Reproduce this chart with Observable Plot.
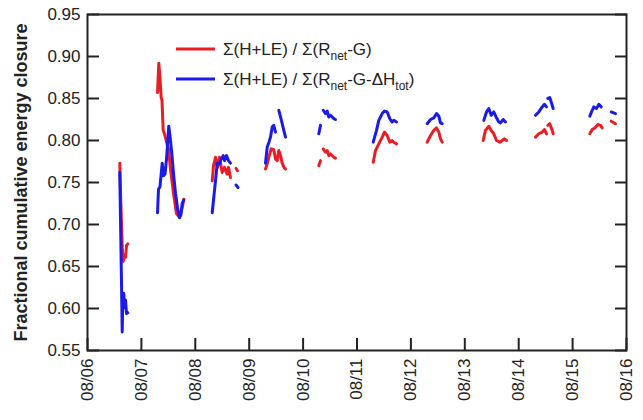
<!DOCTYPE html>
<html><head><meta charset="utf-8">
<script src="https://cdn.jsdelivr.net/npm/d3@7"></script>
<script src="https://cdn.jsdelivr.net/npm/@observablehq/plot@0.6"></script>
<style>
body{margin:0;background:#fff;}
#chart{width:643px;height:420px;}
</style>
</head><body><div id="chart"></div>
<script>
// x tick labels (month/day) and y ticks
const dayLabels = ["08/06","08/07","08/08","08/09","08/10","08/11","08/12","08/13","08/14","08/15","08/16"];
const yTicks = [0.55,0.60,0.65,0.70,0.75,0.80,0.85,0.90,0.95];
const yTitle = "Fractional cumulative energy closure";

// series: segments of [days since 08/06 00:00, closure]
const redSegments = [
  [[0.599,.773],[0.612,.74],[0.631,.70],[0.646,.67],[0.662,.656],[0.677,.66],[0.686,.663],[0.705,.661],[0.724,.675],[0.748,.677]],
  [[1.299,.857],[1.323,.892],[1.345,.875],[1.367,.851],[1.382,.848],[1.404,.812],[1.429,.808],[1.479,.795],[1.503,.79],[1.540,.766],[1.596,.737],[1.651,.713],[1.688,.71],[1.725,.713],[1.763,.722],[1.787,.73]],
  [[2.314,.752],[2.338,.77],[2.375,.78],[2.412,.768],[2.449,.78],[2.499,.762],[2.542,.768],[2.592,.76],[2.616,.768],[2.653,.756]],
  [[2.755,.767],[2.783,.764]],
  [[3.302,.766],[3.334,.772],[3.364,.78],[3.408,.79],[3.456,.789],[3.488,.778],[3.519,.776],[3.549,.788],[3.581,.782],[3.612,.773],[3.646,.768],[3.674,.766]],
  [[4.291,.770],[4.323,.776]],
  [[4.373,.79],[4.416,.786],[4.447,.788],[4.477,.782],[4.508,.784],[4.570,.78],[4.601,.779]],
  [[5.301,.774],[5.343,.788],[5.404,.796],[5.468,.804],[5.510,.81],[5.560,.806],[5.609,.798],[5.653,.80],[5.683,.798],[5.733,.796]],
  [[6.302,.798],[6.364,.806],[6.425,.812],[6.475,.815],[6.518,.81],[6.549,.802],[6.581,.798]],
  [[7.341,.80],[7.384,.812],[7.445,.817],[7.490,.812],[7.538,.808],[7.588,.80],[7.650,.798],[7.694,.80],[7.737,.802],[7.774,.80]],
  [[8.312,.804],[8.373,.808],[8.436,.81],[8.479,.813],[8.516,.808]],
  [[8.540,.818],[8.577,.82],[8.622,.812],[8.640,.808]],
  [[9.319,.808],[9.364,.813],[9.412,.815],[9.467,.819],[9.518,.818],[9.549,.815]],
  [[9.716,.823],[9.796,.820]]
];
const blueSegments = [
  [[0.599,.762],[0.612,.708],[0.631,.63],[0.644,.572],[0.655,.613],[0.673,.618],[0.686,.601],[0.705,.61],[0.724,.594],[0.748,.595]],
  [[1.299,.714],[1.317,.742],[1.345,.745],[1.386,.773],[1.410,.758],[1.438,.76],[1.466,.778],[1.508,.817],[1.540,.80],[1.571,.78],[1.596,.76],[1.633,.737],[1.670,.72],[1.707,.708],[1.735,.712],[1.757,.725],[1.787,.729]],
  [[2.314,.714],[2.347,.735],[2.375,.752],[2.406,.773],[2.440,.772],[2.468,.776],[2.518,.782],[2.542,.776],[2.579,.782],[2.616,.776],[2.653,.773]],
  [[2.755,.747],[2.792,.744]],
  [[3.302,.773],[3.334,.792],[3.367,.798],[3.395,.804],[3.427,.816],[3.456,.818],[3.488,.81]],
  [[3.549,.836],[3.581,.828],[3.612,.82],[3.642,.812],[3.674,.804]],
  [[4.291,.808],[4.323,.818]],
  [[4.373,.836],[4.416,.832],[4.447,.835],[4.477,.828],[4.508,.83],[4.570,.826],[4.601,.825]],
  [[5.301,.798],[5.362,.812],[5.404,.824],[5.468,.832],[5.510,.835],[5.560,.834],[5.609,.826],[5.653,.822],[5.683,.824],[5.733,.822]],
  [[6.302,.82],[6.364,.825],[6.425,.827],[6.475,.832],[6.518,.829],[6.549,.821],[6.581,.82]],
  [[7.353,.824],[7.403,.834],[7.445,.838],[7.490,.83],[7.538,.834],[7.588,.827],[7.631,.822],[7.662,.821],[7.712,.825],[7.755,.822]],
  [[8.312,.83],[8.373,.834],[8.436,.84],[8.479,.843],[8.516,.84]],
  [[8.540,.85],[8.577,.851],[8.622,.842],[8.640,.838]],
  [[9.319,.829],[9.364,.836],[9.393,.84],[9.443,.838],[9.486,.843],[9.531,.84]],
  [[9.716,.834],[9.796,.832]]
];

const RED = "#ec1c24", BLUE = "#1a1aeb", INK = "#222222";
const base = Date.UTC(2013, 7, 6);
const toDate = t => new Date(base + t * 864e5);
const parseLabel = s => { const [m, d] = s.split("/").map(Number); return new Date(Date.UTC(2013, m - 1, d)); };
const xTicks = dayLabels.map(parseLabel);
const table = (segs, name) => segs.flatMap((s, i) => s.map(([t, v]) => ({date: toDate(t), v, seg: name + i})));
const redData = table(redSegments, "r");
const blueData = table(blueSegments, "b");

const TK = 12; // inward tick length

const chart = Plot.plot({
  width: 643, height: 420,
  marginLeft: 87, marginRight: 17, marginTop: 14, marginBottom: 70,
  style: {fontFamily: "'Liberation Sans', Arial, sans-serif", fontSize: "17px", color: INK},
  x: {type: "utc", domain: [xTicks[0], xTicks[xTicks.length - 1]]},
  y: {domain: [0.55, 0.95]},
  marks: [
    Plot.line(redData, {x: "date", y: "v", z: "seg", stroke: RED, strokeWidth: 3}),
    Plot.line(blueData, {x: "date", y: "v", z: "seg", stroke: BLUE, strokeWidth: 3}),
    Plot.frame({stroke: INK, strokeWidth: 2}),
    // inward tick marks (left, right, bottom)
    Plot.axisY({ticks: yTicks, tickSize: TK, dx: TK, fill: "none", stroke: INK, strokeWidth: 2, label: null}),
    Plot.axisY({anchor: "right", ticks: yTicks, tickSize: TK, dx: -TK, fill: "none", stroke: INK, strokeWidth: 2, label: null}),
    Plot.axisX({ticks: xTicks, tickSize: -TK, fill: "none", stroke: INK, strokeWidth: 2, label: null}),
    // tick labels
    Plot.axisY({ticks: yTicks, tickFormat: d3.format(".2f"), tickSize: 0, tickPadding: 7, fontSize: 17, label: null}),
    Plot.axisX({ticks: xTicks, tickFormat: (d, i) => dayLabels[i], tickRotate: -90, tickSize: 0, tickPadding: 8, fontSize: 17, label: null}),
    Plot.text([yTitle], {frameAnchor: "left", textAnchor: "middle", rotate: -90, dx: -66, text: d => d, fontSize: 18, fontWeight: "bold", fill: INK})
  ]
});
document.getElementById("chart").appendChild(chart);

// legend (inside plot, top-left)
const svg = d3.select(chart);
const lg = svg.append("g")
  .attr("font-family", "'Liberation Sans', Arial, sans-serif")
  .attr("font-size", 17).attr("fill", INK).attr("text-anchor", "start");
const items = [
  {color: RED, y: 49, parts: ["Σ(H+LE) / Σ(R", ["net"], "-G)"]},
  {color: BLUE, y: 79, parts: ["Σ(H+LE) / Σ(R", ["net"], "-G-ΔH", ["tot"], ")"]}
];
items.forEach(it => {
  lg.append("line").attr("x1", 176).attr("x2", 215).attr("y1", it.y).attr("y2", it.y)
    .attr("stroke", it.color).attr("stroke-width", 3);
  const t = lg.append("text").attr("x", 223).attr("y", it.y + 6).attr("text-anchor", "start");
  let sub = false;
  it.parts.forEach(p => {
    if (Array.isArray(p)) {
      t.append("tspan").attr("dy", 5).attr("font-size", 12).text(p[0]);
      sub = true;
    } else {
      t.append("tspan").attr("dy", sub ? -5 : 0).text(p);
      sub = false;
    }
  });
});
</script>
</body></html>
